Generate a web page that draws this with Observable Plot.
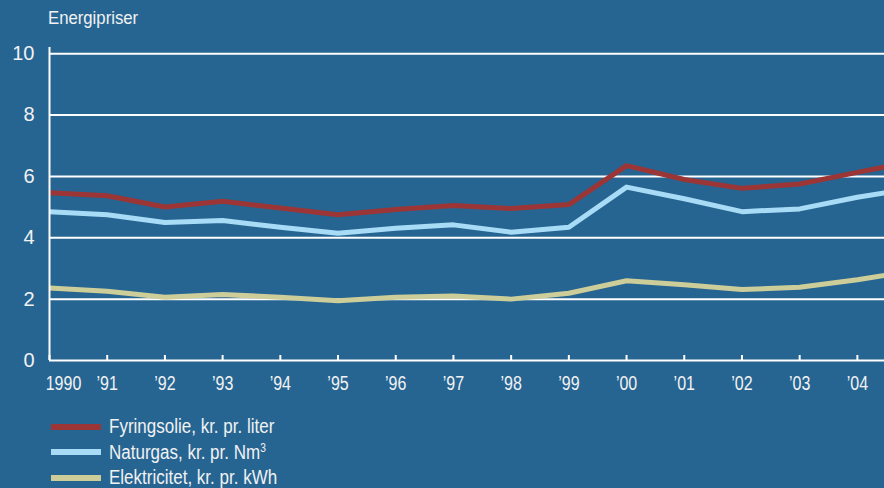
<!DOCTYPE html>
<html>
<head>
<meta charset="utf-8">
<script src="https://cdn.jsdelivr.net/npm/d3@7"></script>
<script src="https://cdn.jsdelivr.net/npm/@observablehq/plot@0.6"></script>
<style>
  html, body { margin: 0; padding: 0; background: #266592; }
  #wrap { position: relative; width: 884px; height: 488px; overflow: hidden; background: #266592; font-family: "Liberation Sans", Arial, sans-serif; color: #f2f2f2; }
  #title { position: absolute; left: 48px; top: 7px; font-size: 19px; transform: scaleX(0.88); transform-origin: left top; }
  #chart { position: absolute; left: 0; top: 0; }
  #legend { position: absolute; left: 51px; top: 414px; }
  .row { display: flex; align-items: center; height: 25.5px; font-size: 20px; }
  .sw { width: 50px; height: 6px; margin-right: 8px; flex: none; }
  .lbl { display: inline-block; transform: scaleX(0.85); transform-origin: left center; white-space: nowrap; }
  sup { font-size: 12px; vertical-align: 7px; }
</style>
</head>
<body>
<div id="wrap">
  <div id="chart"></div>
  <div id="title">Energipriser</div>
  <div id="legend"></div>
</div>
<script>
const years = [1990,1991,1992,1993,1994,1995,1996,1997,1998,1999,2000,2001,2002,2003,2004,2005];
const fyringsolie = [5.47,5.37,5.0,5.19,4.97,4.75,4.92,5.05,4.95,5.08,6.35,5.9,5.61,5.75,6.13,6.5];
const naturgas    = [4.85,4.75,4.5,4.56,4.34,4.15,4.31,4.42,4.18,4.34,5.65,5.27,4.85,4.94,5.32,5.62];
const elektricitet= [2.36,2.26,2.06,2.15,2.06,1.95,2.06,2.1,2.0,2.19,2.6,2.47,2.31,2.39,2.63,2.93];
const xTicks = [1990,1991,1992,1993,1994,1995,1996,1997,1998,1999,2000,2001,2002,2003,2004];
const yTicks = [0,2,4,6,8,10];
const seriesNames = ["Fyringsolie, kr. pr. liter", "Naturgas, kr. pr. Nm", "Elektricitet, kr. pr. kWh"];
const seriesColors = ["#9b3536", "#a8dcf6", "#cdcd99"];
const seriesValues = [fyringsolie, naturgas, elektricitet];

const data = [];
seriesValues.forEach((vals, i) => vals.forEach((v, j) => data.push({year: years[j], value: v, series: seriesNames[i]})));

const fmt = d => d === 1990 ? "1990" : "\u2019" + String(d).slice(2);

const chart = Plot.plot({
  width: 884,
  height: 400,
  marginLeft: 49,
  marginRight: 0,
  marginTop: 47,
  marginBottom: 40,
  style: { background: "transparent", color: "#f2f2f2", fontFamily: "'Liberation Sans', Arial, sans-serif", overflow: "hidden" },
  x: { domain: [1990, 2004.47], label: null },
  y: { domain: [0, 10.2], label: null },
  color: { domain: seriesNames, range: seriesColors },
  marks: [
    Plot.ruleY(yTicks.filter(d => d > 0), { stroke: "#ffffff", strokeWidth: 2 }),
    Plot.lineY(data, { x: "year", y: "value", z: "series", stroke: "series", strokeWidth: 5, clip: true }),
    Plot.ruleY([0], { stroke: "#ffffff", strokeWidth: 2 }),
    Plot.ruleX([1990], { stroke: "#ffffff", strokeWidth: 2 }),
    Plot.axisX(xTicks, { tickSize: 5, dy: -5, tickFormat: () => "", stroke: "#ffffff", strokeWidth: 2 }),
    Plot.axisX(xTicks, { tickSize: 0, tickPadding: 15, tickFormat: fmt, fontSize: 20, fill: "#f2f2f2" }),
    Plot.axisY(yTicks, { tickSize: 0, tickPadding: 15, fontSize: 20, fill: "#f2f2f2" })
  ]
});
document.getElementById("chart").appendChild(chart);

// condense the x tick labels horizontally (narrow type as in the original)
const labelSet = new Set(xTicks.map(fmt));
chart.querySelectorAll("text").forEach(t => {
  if (!labelSet.has(t.textContent)) return;
  const shift = t.textContent === "1990" ? 14 : 0;
  const tr = t.getAttribute("transform");
  if (tr && tr.includes("translate")) {
    t.setAttribute("transform", `translate(${shift},0) ` + tr + " scale(0.8,1)");
  } else {
    const x = parseFloat(t.getAttribute("x") || "0");
    t.setAttribute("transform", `translate(${x + shift},0) scale(0.8,1) translate(${-x},0)` + (tr ? " " + tr : ""));
  }
});

const legend = document.getElementById("legend");
seriesNames.forEach((name, i) => {
  const row = document.createElement("div");
  row.className = "row";
  const sw = document.createElement("div");
  sw.className = "sw";
  sw.style.background = seriesColors[i];
  const label = document.createElement("span");
  label.className = "lbl";
  label.textContent = name;
  if (i === 1) { const s = document.createElement("sup"); s.textContent = "3"; label.appendChild(s); }
  row.appendChild(sw);
  row.appendChild(label);
  legend.appendChild(row);
});
</script>
</body>
</html>
